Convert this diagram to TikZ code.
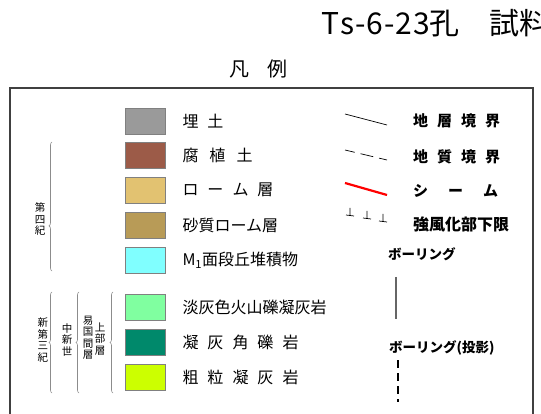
\documentclass[tikz,border=0pt]{standalone}
\usepackage{fontspec}
\setmainfont{Noto Sans CJK JP}
\usetikzlibrary{positioning,decorations.pathreplacing}

\definecolor{cUme}{HTML}{9A9A9A}
\definecolor{cFushoku}{HTML}{9C5B48}
\definecolor{cLoam}{HTML}{E2C271}
\definecolor{cSandLoam}{HTML}{B89B57}
\definecolor{cTerrace}{HTML}{80FFFF}
\definecolor{cLapilli}{HTML}{80FFA0}
\definecolor{cBreccia}{HTML}{00896B}
\definecolor{cCoarse}{HTML}{CCFF00}

\newcommand{\sk}{\hspace{9pt}}

\begin{document}
\begin{tikzpicture}[x=1pt, y=-1pt, every node/.style={inner sep=0pt},
    swatch/.style={draw=black!50, line width=0.6pt, minimum width=40pt, minimum height=26pt},
    item/.style={right=17pt of #1, font=\fontsize{16}{18}\selectfont},
    key/.style={anchor=west, font=\fontsize{15}{18}\selectfont\bfseries},
    era/.style={align=center, font=\fontsize{10.5}{11.5}\selectfont},
    bracket/.style={draw=black!45, line width=0.6pt, decorate, decoration={brace, amplitude=3pt}}]
    \useasboundingbox (0,0) rectangle (541,414);
    \node[anchor=west, font=\fontsize{30}{32}\selectfont] (title) at (321,23)
        {T\hspace{1pt}s\hspace{1pt}-\hspace{1pt}6\hspace{1pt}-\hspace{1pt}2\hspace{1pt}3孔\hspace{1em}試料};
    \node[font=\fontsize{20}{22}\selectfont] (legend) at (258,69) {凡\hspace{18pt}例};
    \draw[black!75, line width=1.3pt] (10,88) rectangle (533,440); % frame runs off the page

    % colour swatches
    \foreach \n/\y/\c in {1/121/cUme, 2/155/cFushoku, 3/190/cLoam, 4/225/cSandLoam,
        5/260/cTerrace, 6/307/cLapilli, 7/342/cBreccia, 8/377/cCoarse}
        \node[swatch, fill=\c] (sw\n) at (145,\y) {};
    \node[item=sw1] (fill) {埋\sk 土};
    \node[item=sw2] (humus) {腐\hspace{11pt}植\hspace{11pt}土};
    \node[item=sw3] (loam) {ロ\sk ー\sk ム\sk 層};
    \node[item=sw4] (sandloam) {砂質ローム層};
    \node[item=sw5] (terrace) {M\textsubscript{1}面段丘堆積物};
    \node[item=sw6] (lapilli) {淡灰色火山礫凝灰岩};
    \node[item=sw7] (breccia) {凝\sk 灰\sk 角\sk 礫\sk 岩};
    \node[item=sw8] (coarse) {粗\sk 粒\sk 凝\sk 灰\sk 岩};

    % ages
    \node[era] (quat) at (40,219) {第\\四\\紀};
    \node[era] (neog) at (43,340) {新\\第\\三\\紀};
    \node[era] (mioc) at (67,340) {中\\新\\世};
    \node[era] (ikoma) at (88,338) {易\\国\\間\\層};
    \node[era] (upper) at (100,339) {上\\部\\層};
    \draw[bracket, decoration={aspect=0.35}] (52,271) -- (52,142);
    \draw[bracket] (52,393) -- (52,292);
    \draw[bracket] (79,393) -- (79,292);
    \draw[bracket] (113,393) -- (113,292);

    % line symbols
    \draw[line width=0.7pt] (345,114) -- (387,125);
    \draw[line width=0.7pt, dash pattern=on 10pt off 6pt on 13pt off 6pt] (345,150) -- (387,160);
    \draw[red, line width=2.2pt] (345,183) -- (387,195);
    \foreach \x/\y in {350/215, 367/218, 383/221}
        \draw[line width=0.7pt] (\x-4,\y) -- (\x+4,\y+1) (\x,\y) -- (\x,\y-7);
    \node[key] (bound) at (413,121) {地\sk 層\sk 境\sk 界};
    \node[key] (geol) at (413,157) {地\sk 質\sk 境\sk 界};
    \node[key] (seam) at (413,191) {シ\hspace{20pt}ー\hspace{20pt}ム};
    \node[key, font=\fontsize{16}{18}\selectfont\bfseries] (weather) at (413,224) {強風化部下限};

    % borings
    \node[key, font=\fontsize{13.5}{16}\selectfont\bfseries] (boring) at (388,254) {ボーリング};
    \draw[black!60, line width=1.2pt] (396,277) -- (396,319);
    \node[key, font=\fontsize{13.5}{16}\selectfont\bfseries] (proj) at (389,348) {ボーリング(投影)};
    \draw[line width=1.5pt, dash pattern=on 8pt off 5pt] (398,360) -- (398,402);
\end{tikzpicture}
\end{document}
